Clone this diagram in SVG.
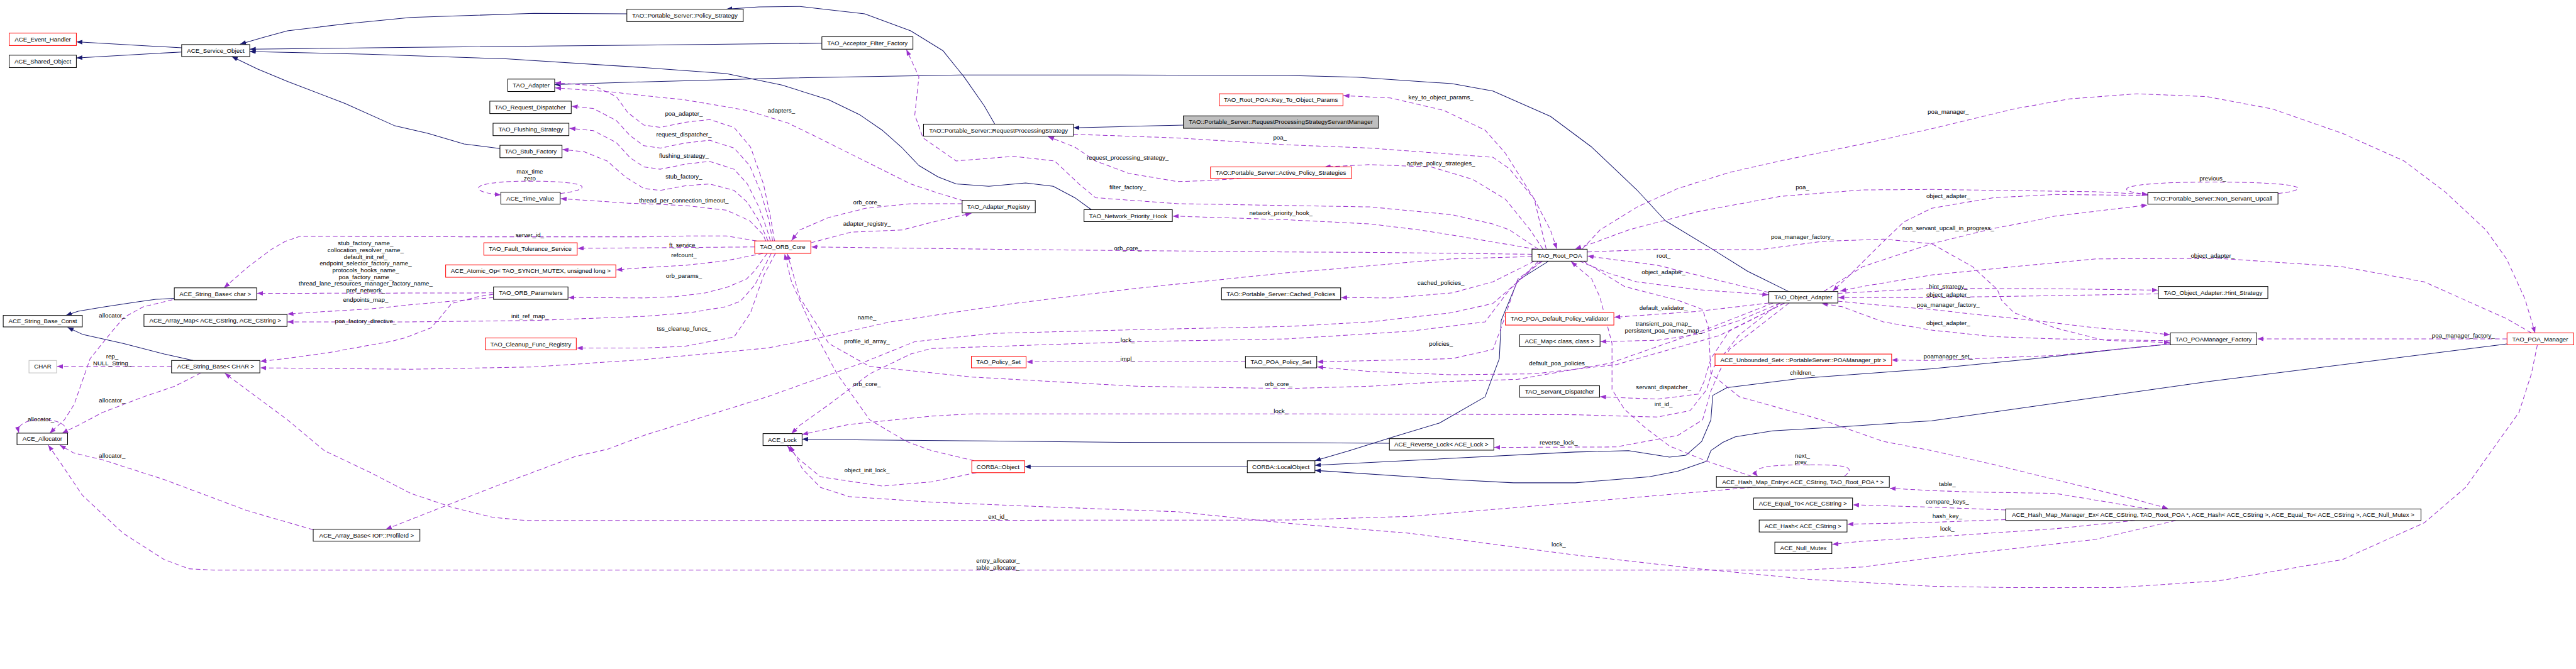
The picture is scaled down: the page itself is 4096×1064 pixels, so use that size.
<svg xmlns="http://www.w3.org/2000/svg" width="4096" height="1064" viewBox="0 0 4096 1064">
<defs>
<style>
.n{fill:#fff;stroke:#000;stroke-width:1.4}
.r{stroke:#f00}
.g{fill:#bfbfbf}
.c{stroke:#bfbfbf}
text{font-family:"Liberation Sans",Arial,sans-serif;font-size:13.3px;text-anchor:middle;fill:#000}
.i{fill:none;stroke:#191970;stroke-width:1.4;stroke-linejoin:round;marker-end:url(#ai)}
.u{fill:none;stroke:#9a32cd;stroke-width:1.4;stroke-dasharray:10,6;stroke-linejoin:round;marker-end:url(#au)}
</style>
<marker id="ai" markerUnits="userSpaceOnUse" markerWidth="14" markerHeight="10" refX="13" refY="5" orient="auto"><path d="M0,0L13,5L0,10z" fill="#191970" stroke="none"/></marker>
<marker id="au" markerUnits="userSpaceOnUse" markerWidth="14" markerHeight="10" refX="13" refY="5" orient="auto"><path d="M0,0L13,5L0,10z" fill="#9a32cd" stroke="none"/></marker>
</defs>
<rect width="4096" height="1064" fill="#fff"/>
<g transform="scale(0.7313)">
<g id="edges">
<polyline class="i" points="395,104 166,91"/>
<polyline class="i" points="395,113 166,126"/>
<polyline class="i" points="1363,30 1161,29 893,38 750,52 625,67 570,82 522,96"/>
<polyline class="i" points="1787,94 1400,98 900,103 543,107"/>
<polyline class="i" points="2373,456 2337,430 2290,405 2230,398 2150,405 2079,400 2040,385 1998,360 1960,320 1918,283 1870,250 1802,217 1700,185 1579,160 1400,147 1100,128 800,118 543,112"/>
<polyline class="i" points="1087,323 1009,313 930,290 857,273 750,225 625,177 560,150 504,123"/>
<polyline class="i" points="2163,270 2140,230 2096,167 2050,110 1980,67 1880,30 1739,14 1650,15 1579,20"/>
<polyline class="i" points="2573,272 2450,275 2334,278"/>
<polyline class="i" points="3889,634 3800,590 3720,540 3621,480 3559,413 3461,320 3371,253 3246,198 3157,182 2950,168 2800,164 2400,163 2096,163 1700,170 1400,178 1206,184"/>
<polyline class="i" points="379,649 339,651 295,657 223,668 170,677 143,686"/>
<polyline class="i" points="420,784 357,770 268,747 179,727 147,712"/>
<polyline class="i" points="2712,1015 2228,1015"/>
<polyline class="i" points="3021,964 2858,963 2436,962 2141,959 1891,957 1744,955"/>
<polyline class="i" points="3367,568 3300,610 3264,697 3260,780 3229,863 3130,920 3030,950 2934,980 2859,1002"/>
<polyline class="i" points="5451,748 4800,830 4200,915 4005,928 3854,937 3773,950 3746,962 3720,980 3711,1003 3648,1025 3586,1037 3425,1050 3291,1050 3157,1043 2859,1023"/>
<polyline class="i" points="4719,748 4602,760 4423,780 4200,802 3916,823 3755,843 3724,860 3720,913 3700,960 3666,990 3630,994 3541,980 3425,983 2859,1012"/>

<polyline class="u" points="1684,524 1675,470 1660,400 1632,320 1596,277 1543,260 1490,266 1436,277 1400,272 1365,245 1340,210 1290,186 1207,180"/>
<polyline class="u" points="1680,524 1672,480 1655,420 1630,360 1596,322 1543,305 1490,311 1436,322 1400,317 1370,295 1340,262 1290,236 1243,231"/>
<polyline class="u" points="1675,524 1668,500 1650,450 1625,400 1596,368 1543,351 1490,357 1436,368 1400,363 1370,343 1340,310 1290,284 1238,279"/>
<polyline class="u" points="1670,524 1650,480 1625,440 1596,414 1543,400 1490,404 1436,414 1400,410 1360,385 1320,350 1270,330 1223,325"/>
<polyline class="u" points="1665,524 1659,510 1630,480 1579,457 1489,447 1400,443 1366,442 1295,437 1219,432"/>
<polyline class="u" points="2096,437 2040,420 1980,400 1910,365 1846,333 1780,300 1712,267 1623,240 1489,217 1400,208 1330,200 1207,191"/>
<polyline class="u" points="2092,443 1980,443 1882,453 1802,473 1739,500 1721,523"/>
<polyline class="u" points="1763,528 1850,505 1962,500 2040,480 2112,464"/>
<polyline class="u" points="3331,553 3000,549 2800,548 2585,546 2236,543 1764,537"/>
<polyline class="u" points="1641,537 1400,539 1256,540"/>
<polyline class="u" points="1645,524 1579,513 1507,513 1400,515 1000,515 652,514 620,525 589,543 540,580 487,626"/>
<polyline class="u" points="1659,551 1579,567 1490,577 1400,582 1340,587"/>
<polyline class="u" points="1668,551 1640,590 1623,607 1580,625 1534,637 1470,645 1400,648 1236,647"/>
<polyline class="u" points="1686,551 1660,600 1632,680 1596,733 1489,753 1400,757 1254,757"/>
<polyline class="u" points="1677,551 1641,620 1610,655 1579,667 1500,680 1400,688 1161,697 893,700 625,700"/>
<polyline class="u" points="1073,637 559,638"/>
<polyline class="u" points="1073,647 982,655 900,662 804,672 700,678 625,683"/>
<polyline class="u" points="1073,640 1040,645 982,660 955,693 937,713 880,735 848,743 780,755 714,767 620,780 566,786"/>
<polyline class="u" points="3331,558 3157,563 3068,570 2900,585 2800,593 2471,627 2204,660 1936,700 1757,740 1668,757 1400,782 1161,798 893,803 566,800"/>
<polyline class="u" points="3345,568 3300,613 3246,660 3157,680 2979,700 2800,710 2471,717 2159,725 1989,743 1873,790 1668,863 1400,947 1321,977 1250,993 1071,1060 839,1151"/>
<polyline class="u" points="3350,568 3282,630 3229,700 3068,720 2800,737 2471,743 2025,758 1980,770 1891,813 1802,880 1739,925 1721,943"/>
<polyline class="u" points="3870,659 3780,730 3725,800 3711,847 3675,893 3604,907 3425,902 2800,900 2114,900 2025,905 1846,923 1744,945"/>
<polyline class="u" points="3855,659 3700,720 3500,790 3300,825 3139,830 2979,840 2800,845 2471,840 2114,820 1891,797 1802,747 1739,647 1712,552"/>
<polyline class="u" points="2118,1002 2025,980 1971,960 1891,913 1820,813 1766,713 1721,613 1706,552"/>
<polyline class="u" points="2123,1028 2025,1048 1918,1057 1784,1037 1739,1000 1712,970"/>
<polyline class="u" points="5517,750 5504,813 5477,897 5432,960 5361,1060 5271,1137 5093,1217 4825,1263 4602,1278 4379,1278 4200,1275 3934,1260 3693,1237 3425,1207 3068,1160 2800,1138 2561,1113 2293,1103 2025,1092 1846,1080 1784,1060 1745,1020 1718,970"/>
<polyline class="u" points="4731,1132 4557,1173 4379,1193 4200,1213 4050,1233 3916,1240 1400,1240 464,1240 411,1237 357,1217 268,1160 179,1077 134,1010 105,968"/>
<polyline class="u" points="3809,1060 3693,1070 3425,1093 3068,1123 2800,1131 1400,1132 1143,1132 1071,1125 982,1103 893,1073 804,1027 705,980 625,913 536,847 489,812"/>
<polyline class="u" points="681,1152 536,1110 357,1043 223,1000 160,985 130,968"/>
<path class="u" d="M142,942 C160,905 30,900 41,941"/>
<polyline class="u" points="375,652 312,667 270,690 250,713 220,750 196,780 175,840 161,880 140,913 108,942"/>
<polyline class="u" points="437,811 380,840 312,863 223,897 170,925 135,942"/>
<polyline class="u" points="373,797 124,797"/>
<path class="u" d="M1218,421 C1290,412 1290,394 1152,394 C1010,394 1020,418 1089,424"/>
<path class="u" d="M4953,421 C5040,410 5000,396 4811,396 C4600,396 4590,415 4670,423"/>
<path class="u" d="M4010,1036 C4045,1010 3990,1011 3916,1011 C3840,1011 3805,1018 3822,1036"/>
<polyline class="u" points="3362,542 3336,433 3273,333 3229,283 3139,240 3023,213 2921,208"/>
<polyline class="u" points="3355,542 3327,500 3273,433 3202,390 3112,363 2979,358 2880,363"/>
<polyline class="u" points="2334,292 2561,300 2800,315 2979,322 3246,342 3282,367 3336,433 3371,500 3385,541"/>
<polyline class="u" points="2699,388 2620,393 2561,395 2454,377 2382,350 2337,320 2279,297"/>
<polyline class="u" points="3345,542 3282,500 3246,487 3157,467 2979,450 2800,447 2561,443 2382,430 2346,400 2293,350 2204,340 2079,350 2007,300 1989,250 1998,167 1971,108"/>
<polyline class="u" points="3340,542 3150,510 3086,500 2979,487 2800,478 2550,470"/>
<polyline class="u" points="3440,542 3479,500 3560,450 3648,410 3760,375 3871,350 4050,313 4200,280 4379,237 4500,215 4646,204 4798,210 4941,237 5093,290 5227,350 5316,417 5405,500 5450,563 5490,650 5512,724"/>
<polyline class="u" points="4670,423 4557,417 4200,412 4050,413 3871,427 3693,460 3541,500 3460,530 3425,541"/>
<polyline class="u" points="4670,425 4468,423 4334,430 4200,453 4139,483 4080,540 4020,600 3985,633"/>
<polyline class="u" points="3965,634 4050,580 4200,530 4334,497 4423,480 4468,470 4669,446"/>
<polyline class="u" points="3846,636 3738,610 3604,577 3452,557"/>
<polyline class="u" points="3434,568 3500,595 3559,613 3693,630 3845,641"/>
<polyline class="u" points="3451,548 3604,542 3827,543 3961,525 4095,520 4200,530 4289,580 4343,630 4352,653 4379,680 4468,713 4575,740 4718,745"/>
<polyline class="u" points="3996,655 4100,665 4200,673 4289,683 4423,697 4557,713 4646,720 4718,728"/>
<polyline class="u" points="4719,741 4468,737 4334,732 4200,718 4095,700 4005,667 3961,660"/>
<polyline class="u" points="3996,638 4200,627 4468,628 4692,631"/>
<polyline class="u" points="4693,639 4468,643 4200,647 3997,647"/>
<polyline class="u" points="5504,724 5450,693 5271,613 5093,580 4825,562 4557,563 4379,580 4200,598 4050,623 4001,633"/>
<polyline class="u" points="5451,737 4908,737"/>
<polyline class="u" points="4719,748 4468,773 4200,784 4113,783"/>
<polyline class="u" points="3871,659 3782,697 3693,727 3604,740 3480,743"/>
<polyline class="u" points="3846,659 3693,677 3510,690"/>
<polyline class="u" points="3880,659 3760,720 3720,780 3705,830 3693,857 3604,868 3479,863"/>
<polyline class="u" points="3880,659 3738,730 3514,793 3336,813 3157,815 2979,808 2864,798"/>
<polyline class="u" points="3354,568 3300,607 3264,713 3246,760 3157,780 2864,787"/>
<polyline class="u" points="3336,568 3246,613 3157,637 3023,648 2916,647"/>
<polyline class="u" points="2708,787 2232,787"/>
<polyline class="u" points="3443,568 3532,623 3648,653 3702,673 3715,713 3720,813 3782,863 3961,913 4095,960 4200,980 4334,1010 4468,1043 4646,1087 4714,1106"/>
<polyline class="u" points="3809,1036 3711,1003 3630,970 3577,930 3532,890 3505,847 3505,747 3479,647 3461,607 3416,569"/>
<polyline class="u" points="3890,659 3760,760 3720,850 3702,913 3648,947 3514,972 3249,973"/>
<polyline class="u" points="4673,1107 4468,1073 4289,1070 4200,1067 4109,1062"/>
<polyline class="u" points="4361,1109 4200,1103 4029,1098"/>
<polyline class="u" points="4361,1130 4200,1136 4017,1140"/>
<polyline class="u" points="4642,1132 4468,1150 4200,1168 4050,1177 3984,1184"/>

<text x="1152" y="377">max_time</text>
<text x="1152" y="392">zero</text>
<text x="1699" y="245">adapters_</text>
<text x="1487" y="252">poa_adapter_</text>
<text x="1487" y="297">request_dispatcher_</text>
<text x="1487" y="343">flushing_strategy_</text>
<text x="1487" y="388">stub_factory_</text>
<text x="1487" y="440">thread_per_connection_timeout_</text>
<text x="1885" y="444">orb_core_</text>
<text x="1885" y="491">adapter_registry_</text>
<text x="2452" y="347">request_processing_strategy_</text>
<text x="2452" y="412">filter_factory_</text>
<text x="2783" y="303">poa_</text>
<text x="3133" y="216">key_to_object_params_</text>
<text x="3133" y="360">active_policy_strategies_</text>
<text x="2785" y="468">network_priority_hook_</text>
<text x="3919" y="412">poa_</text>
<text x="4236" y="248">poa_manager_</text>
<text x="4236" y="431">object_adapter_</text>
<text x="4236" y="500">non_servant_upcall_in_progress_</text>
<text x="4811" y="393">previous_</text>
<text x="1152" y="515">server_id_</text>
<text x="795" y="533">stub_factory_name_</text>
<text x="795" y="548">collocation_resolver_name_</text>
<text x="795" y="563">default_init_ref_</text>
<text x="795" y="577">endpoint_selector_factory_name_</text>
<text x="795" y="592">protocols_hooks_name_</text>
<text x="795" y="607">poa_factory_name_</text>
<text x="795" y="621">thread_lane_resources_manager_factory_name_</text>
<text x="795" y="636">pref_network_</text>
<text x="795" y="656">endpoints_map_</text>
<text x="795" y="703">poa_factory_directive_</text>
<text x="1152" y="692">init_ref_map_</text>
<text x="244" y="691">allocator_</text>
<text x="244" y="780">rep_</text>
<text x="244" y="795">NULL_String_</text>
<text x="244" y="875">allocator_</text>
<text x="89" y="916">allocator_</text>
<text x="244" y="996">allocator_</text>
<text x="1487" y="537">ft_service_</text>
<text x="1487" y="559">refcount_</text>
<text x="1487" y="605">orb_params_</text>
<text x="1487" y="719">tss_cleanup_funcs_</text>
<text x="1885" y="695">name_</text>
<text x="1885" y="747">profile_id_array_</text>
<text x="1885" y="839">orb_core_</text>
<text x="2452" y="544">orb_core_</text>
<text x="2452" y="744">lock_</text>
<text x="2452" y="785">impl_</text>
<text x="2780" y="839">orb_core_</text>
<text x="2785" y="898">lock_</text>
<text x="3919" y="519">poa_manager_factory_</text>
<text x="3617" y="561">root_</text>
<text x="3617" y="596">object_adapter_</text>
<text x="3133" y="620">cached_policies_</text>
<text x="3617" y="674">default_validator_</text>
<text x="3617" y="708">transient_poa_map_</text>
<text x="3617" y="723">persistent_poa_name_map_</text>
<text x="3133" y="752">policies_</text>
<text x="3389" y="795">default_poa_policies_</text>
<text x="3919" y="815">children_</text>
<text x="3617" y="847">servant_dispatcher_</text>
<text x="3617" y="884">int_id_</text>
<text x="3389" y="967">reverse_lock_</text>
<text x="4811" y="560">object_adapter_</text>
<text x="4236" y="627">hint_strategy_</text>
<text x="4236" y="645">object_adapter_</text>
<text x="4236" y="667">poa_manager_factory_</text>
<text x="4236" y="707">object_adapter_</text>
<text x="4236" y="779">poamanager_set_</text>
<text x="5356" y="735">poa_manager_factory_</text>
<text x="1885" y="1027">object_init_lock_</text>
<text x="2170" y="1128">ext_id_</text>
<text x="2170" y="1224">entry_allocator_</text>
<text x="2170" y="1239">table_allocator_</text>
<text x="3919" y="995">next_</text>
<text x="3919" y="1009">prev_</text>
<text x="3389" y="1188">lock_</text>
<text x="4234" y="1057">table_</text>
<text x="4234" y="1096">compare_keys_</text>
<text x="4234" y="1127">hash_key_</text>
<text x="4234" y="1154">lock_</text>
</g>

<g id="n1"><rect class="n r" x="20" y="72" width="146" height="27"/><text x="93" y="90">ACE_Event_Handler</text></g>
<g id="n2"><rect class="n" x="20" y="120" width="146" height="27"/><text x="93" y="138">ACE_Shared_Object</text></g>
<g id="n3"><rect class="n" x="395" y="97" width="148" height="26"/><text x="469" y="115">ACE_Service_Object</text></g>
<g id="n4"><rect class="n" x="1363" y="20" width="253" height="27"/><text x="1489" y="38">TAO::Portable_Server::Policy_Strategy</text></g>
<g id="n5"><rect class="n" x="1787" y="80" width="198" height="27"/><text x="1886" y="98">TAO_Acceptor_Filter_Factory</text></g>
<g id="n6"><rect class="n" x="1104" y="172" width="102" height="27"/><text x="1155" y="190">TAO_Adapter</text></g>
<g id="n7"><rect class="n" x="1065" y="220" width="177" height="27"/><text x="1153" y="238">TAO_Request_Dispatcher</text></g>
<g id="n8"><rect class="n" x="1072" y="268" width="165" height="27"/><text x="1154" y="286">TAO_Flushing_Strategy</text></g>
<g id="n9"><rect class="n" x="1087" y="316" width="135" height="27"/><text x="1154" y="334">TAO_Stub_Factory</text></g>
<g id="n10"><rect class="n" x="1089" y="418" width="129" height="26"/><text x="1153" y="436">ACE_Time_Value</text></g>
<g id="n11"><rect class="n" x="2008" y="270" width="326" height="26"/><text x="2171" y="288">TAO::Portable_Server::RequestProcessingStrategy</text></g>
<g id="n12"><rect class="n r" x="2651" y="204" width="269" height="26"/><text x="2785" y="222">TAO_Root_POA::Key_To_Object_Params</text></g>
<g id="n13"><rect class="n g" x="2573" y="252" width="424" height="27"/><text x="2785" y="270">TAO::Portable_Server::RequestProcessingStrategyServantManager</text></g>
<g id="n14"><rect class="n r" x="2632" y="363" width="307" height="25"/><text x="2785" y="380">TAO::Portable_Server::Active_Policy_Strategies</text></g>
<g id="n15"><rect class="n" x="2092" y="436" width="159" height="27"/><text x="2171" y="454">TAO_Adapter_Registry</text></g>
<g id="n16"><rect class="n" x="2357" y="456" width="192" height="26"/><text x="2453" y="474">TAO_Network_Priority_Hook</text></g>
<g id="n17"><rect class="n" x="4670" y="419" width="283" height="25"/><text x="4811" y="436">TAO::Portable_Server::Non_Servant_Upcall</text></g>
<g id="n18"><rect class="n r" x="1052" y="528" width="203" height="27"/><text x="1153" y="546">TAO_Fault_Tolerance_Service</text></g>
<g id="n19"><rect class="n r" x="969" y="576" width="370" height="27"/><text x="1154" y="594">ACE_Atomic_Op&lt; TAO_SYNCH_MUTEX, unsigned long &gt;</text></g>
<g id="n20"><rect class="n" x="1073" y="624" width="162" height="27"/><text x="1154" y="642">TAO_ORB_Parameters</text></g>
<g id="n21"><rect class="n" x="379" y="626" width="179" height="26"/><text x="468" y="644">ACE_String_Base&lt; char &gt;</text></g>
<g id="n22"><rect class="n" x="7" y="686" width="172" height="25"/><text x="93" y="703">ACE_String_Base_Const</text></g>
<g id="n23"><rect class="n" x="313" y="684" width="311" height="26"/><text x="468" y="702">ACE_Array_Map&lt; ACE_CString, ACE_CString &gt;</text></g>
<g id="n24"><rect class="n r" x="1055" y="735" width="198" height="26"/><text x="1154" y="753">TAO_Cleanup_Func_Registry</text></g>
<g id="n25"><rect class="n c" x="63" y="784" width="60" height="27"/><text x="93" y="802">CHAR</text></g>
<g id="n26"><rect class="n" x="373" y="784" width="192" height="27"/><text x="469" y="802">ACE_String_Base&lt; CHAR &gt;</text></g>
<g id="n27"><rect class="n" x="37" y="942" width="110" height="25"/><text x="92" y="959">ACE_Allocator</text></g>
<g id="n28"><rect class="n r" x="1641" y="524" width="122" height="27"/><text x="1702" y="542">TAO_ORB_Core</text></g>
<g id="n29"><rect class="n" x="2656" y="626" width="259" height="26"/><text x="2785" y="644">TAO::Portable_Server::Cached_Policies</text></g>
<g id="n30"><rect class="n r" x="2112" y="775" width="119" height="25"/><text x="2171" y="792">TAO_Policy_Set</text></g>
<g id="n31"><rect class="n" x="2708" y="775" width="155" height="25"/><text x="2785" y="792">TAO_POA_Policy_Set</text></g>
<g id="n32"><rect class="n" x="1659" y="943" width="85" height="26"/><text x="1701" y="961">ACE_Lock</text></g>
<g id="n33"><rect class="n" x="3331" y="542" width="120" height="26"/><text x="3391" y="560">TAO_Root_POA</text></g>
<g id="n34"><rect class="n" x="3846" y="634" width="150" height="25"/><text x="3921" y="651">TAO_Object_Adapter</text></g>
<g id="n35"><rect class="n r" x="3273" y="680" width="236" height="27"/><text x="3391" y="698">TAO_POA_Default_Policy_Validator</text></g>
<g id="n36"><rect class="n" x="3304" y="728" width="175" height="26"/><text x="3391" y="746">ACE_Map&lt; class, class &gt;</text></g>
<g id="n37"><rect class="n r" x="3729" y="770" width="384" height="25"/><text x="3921" y="787">ACE_Unbounded_Set&lt; ::PortableServer::POAManager_ptr &gt;</text></g>
<g id="n38"><rect class="n" x="3304" y="839" width="174" height="25"/><text x="3391" y="856">TAO_Servant_Dispatcher</text></g>
<g id="n39"><rect class="n" x="3021" y="954" width="227" height="25"/><text x="3134" y="971">ACE_Reverse_Lock&lt; ACE_Lock &gt;</text></g>
<g id="n40"><rect class="n" x="4693" y="623" width="238" height="26"/><text x="4812" y="641">TAO_Object_Adapter::Hint_Strategy</text></g>
<g id="n41"><rect class="n" x="4719" y="724" width="188" height="26"/><text x="4813" y="742">TAO_POAManager_Factory</text></g>
<g id="n42"><rect class="n r" x="5451" y="724" width="145" height="26"/><text x="5523" y="742">TAO_POA_Manager</text></g>
<g id="n43"><rect class="n" x="681" y="1151" width="232" height="26"/><text x="797" y="1169">ACE_Array_Base&lt; IOP::ProfileId &gt;</text></g>
<g id="n44"><rect class="n r" x="2113" y="1002" width="115" height="26"/><text x="2170" y="1020">CORBA::Object</text></g>
<g id="n45"><rect class="n" x="2712" y="1002" width="147" height="26"/><text x="2785" y="1020">CORBA::LocalObject</text></g>
<g id="n46"><rect class="n" x="3732" y="1036" width="376" height="24"/><text x="3920" y="1053">ACE_Hash_Map_Entry&lt; ACE_CString, TAO_Root_POA * &gt;</text></g>
<g id="n47"><rect class="n" x="3813" y="1083" width="215" height="25"/><text x="3920" y="1100">ACE_Equal_To&lt; ACE_CString &gt;</text></g>
<g id="n48"><rect class="n" x="3825" y="1131" width="191" height="26"/><text x="3920" y="1149">ACE_Hash&lt; ACE_CString &gt;</text></g>
<g id="n49"><rect class="n" x="3859" y="1179" width="124" height="25"/><text x="3921" y="1196">ACE_Null_Mutex</text></g>
<g id="n50"><rect class="n" x="4361" y="1107" width="903" height="25"/><text x="4812" y="1124">ACE_Hash_Map_Manager_Ex&lt; ACE_CString, TAO_Root_POA *, ACE_Hash&lt; ACE_CString &gt;, ACE_Equal_To&lt; ACE_CString &gt;, ACE_Null_Mutex &gt;</text></g>
</g>
</svg>
